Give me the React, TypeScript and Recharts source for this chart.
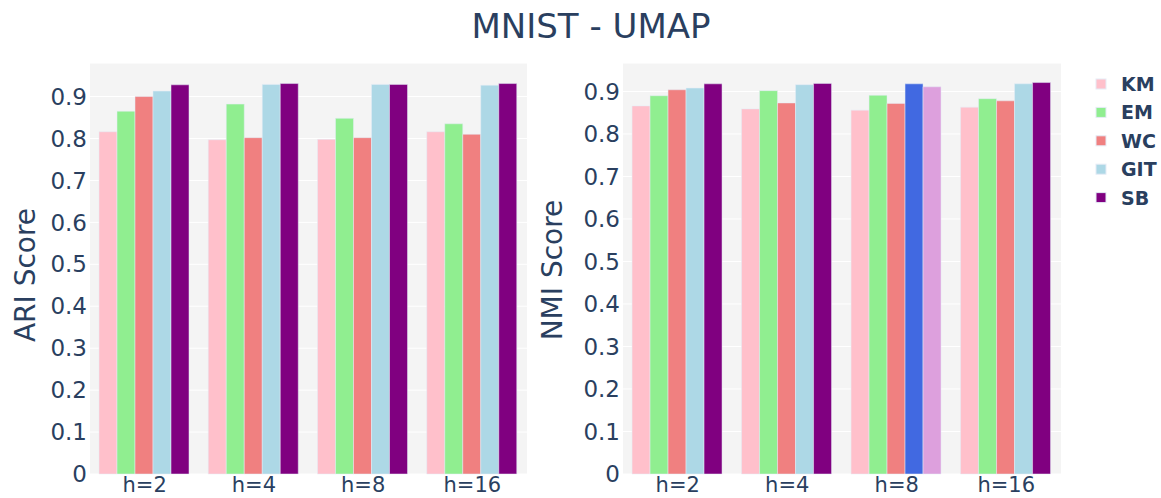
import React from 'react';
import { BarChart, Bar, XAxis, YAxis, CartesianGrid, Cell } from 'recharts';

const categories = ['h=2', 'h=4', 'h=8', 'h=16'];

const ariKM = [0.816, 0.797, 0.798, 0.816];
const ariEM = [0.865, 0.882, 0.848, 0.835];
const ariWC = [0.9, 0.802, 0.802, 0.81];
const ariGIT = [0.913, 0.929, 0.929, 0.927];
const ariSB = [0.928, 0.931, 0.929, 0.931];

const nmiKM = [0.866, 0.859, 0.856, 0.863];
const nmiEM = [0.89, 0.902, 0.891, 0.883];
const nmiWC = [0.904, 0.873, 0.872, 0.878];
const nmiGIT = [0.908, 0.916, 0.918, 0.918];
const nmiSB = [0.918, 0.919, 0.911, 0.921];

const yTicks = [0, 0.1, 0.2, 0.3, 0.4, 0.5, 0.6, 0.7, 0.8, 0.9];

const series = [
    { key: 'KM', color: '#FFC0CB' },
    { key: 'EM', color: '#90EE90' },
    { key: 'WC', color: '#F08080' },
    { key: 'GIT', color: '#ADD8E6' },
    { key: 'SB', color: '#800080' },
];

// highlighted bars in the NMI panel (h=8)
const nmiHighlight: Record<string, { index: number; color: string }> = {
    GIT: { index: 2, color: '#4169E1' },
    SB: { index: 2, color: '#DDA0DD' },
};

const ariData = categories.map((c, i) => ({
    name: c,
    KM: ariKM[i],
    EM: ariEM[i],
    WC: ariWC[i],
    GIT: ariGIT[i],
    SB: ariSB[i],
}));

const nmiData = categories.map((c, i) => ({
    name: c,
    KM: nmiKM[i],
    EM: nmiEM[i],
    WC: nmiWC[i],
    GIT: nmiGIT[i],
    SB: nmiSB[i],
}));

const FONT = '"DejaVu Sans", Verdana, sans-serif';
const TEXT = '#2a3f5f';

const fmt = (v: number) => (v === 0 ? '0' : v.toFixed(1));

function Panel({
    data,
    yMax,
    yAxisWidth,
    marginRight,
    highlight,
}: {
    data: any[];
    yMax: number;
    yAxisWidth: number;
    marginRight: number;
    highlight?: Record<string, { index: number; color: string }>;
}) {
    return (
        <BarChart
            width={540}
            height={498}
            data={data}
            margin={{ top: 63, right: marginRight, bottom: 0, left: 0 }}
            barCategoryGap="8.25%"
            barGap={0}
        >
            <CartesianGrid fill="#f4f4f4" stroke="#ffffff" vertical={false} />
            <XAxis
                dataKey="name"
                height={24}
                tickLine={false}
                axisLine={false}
                tickSize={0}
                tickMargin={3}
                tick={{ fill: TEXT, fontSize: 21, fontFamily: FONT }}
            />
            <YAxis
                domain={[0, yMax]}
                ticks={yTicks}
                width={yAxisWidth}
                tickLine={false}
                axisLine={false}
                tickSize={0}
                tickMargin={3}
                tickFormatter={fmt}
                tick={{ fill: TEXT, fontSize: 23, fontFamily: FONT }}
            />
            {series.map((s) => (
                <Bar
                    key={s.key}
                    dataKey={s.key}
                    fill={s.color}
                    stroke="#E5ECF6"
                    strokeWidth={0.5}
                    isAnimationActive={false}
                >
                    {data.map((_, i) => (
                        <Cell
                            key={i}
                            fill={highlight && highlight[s.key] && highlight[s.key].index === i ? highlight[s.key].color : s.color}
                        />
                    ))}
                </Bar>
            ))}
        </BarChart>
    );
}

export default function App() {
    return (
        <div style={{ position: 'absolute', left: 0, top: 0, width: 1161, height: 498, background: '#fff', fontFamily: FONT }}>
            <div style={{ position: 'absolute', left: 0, top: 0 }}>
                <Panel data={ariData} yMax={0.98} yAxisWidth={90} marginRight={13} />
            </div>
            <div style={{ position: 'absolute', left: 540, top: 0 }}>
                <Panel data={nmiData} yMax={0.967} yAxisWidth={83} marginRight={19} highlight={nmiHighlight} />
            </div>
            <svg width={1161} height={498} style={{ position: 'absolute', left: 0, top: 0, pointerEvents: 'none' }}>
                <text x={591} y={38} textAnchor="middle" fontSize={34} fill={TEXT} fontFamily={FONT}>
                    MNIST - UMAP
                </text>
                <text transform="translate(35,275) rotate(-90)" textAnchor="middle" fontSize={28} fill={TEXT} fontFamily={FONT}>
                    ARI Score
                </text>
                <text transform="translate(562,270) rotate(-90)" textAnchor="middle" fontSize={28} fill={TEXT} fontFamily={FONT}>
                    NMI Score
                </text>
                {series.map((s, i) => {
                    const base = 91 + i * 28.4;
                    return (
                        <g key={s.key}>
                            <rect x={1096} y={base - 12} width={10} height={10} fill={s.color} stroke="#E5ECF6" strokeWidth={1} />
                            <text x={1121} y={base} fontSize={19} fontWeight="bold" fill={TEXT} fontFamily={FONT}>
                                {s.key}
                            </text>
                        </g>
                    );
                })}
            </svg>
        </div>
    );
}
